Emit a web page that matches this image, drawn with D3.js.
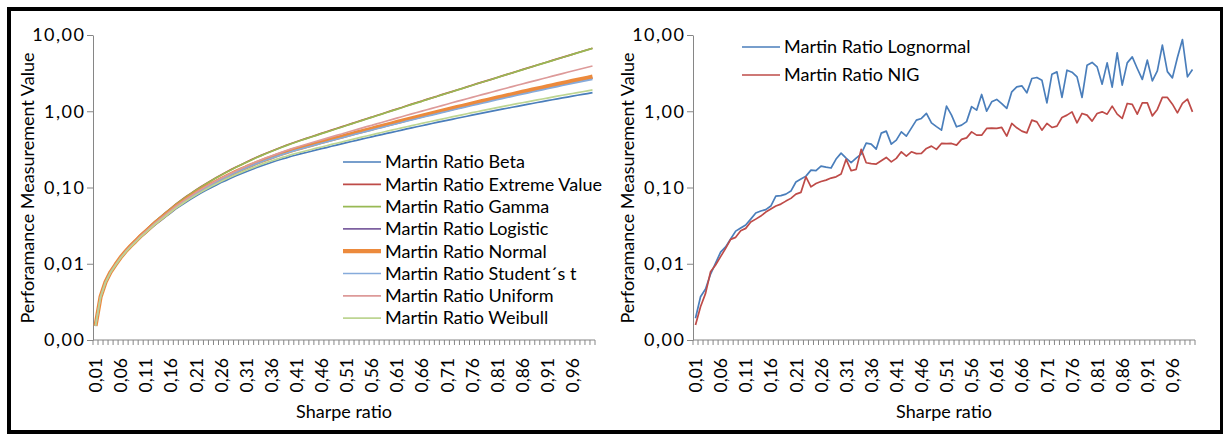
<!DOCTYPE html>
<html>
<head>
<meta charset="utf-8">
<script src="https://cdn.jsdelivr.net/npm/d3@7"></script>
<style>
  html, body { margin: 0; padding: 0; background: #fff; }
  svg text { font-family: Lato, "Open Sans", sans-serif; fill: #000; }
</style>
</head>
<body>
<svg id="chart" width="1223" height="434"></svg>
<script>
// Sharpe ratio categories on the x axis
const sharpeRatio = [0.01,0.02,0.03,0.04,0.05,0.06,0.07,0.08,0.09,0.10,
  0.11,0.12,0.13,0.14,0.15,0.16,0.17,0.18,0.19,0.20,
  0.21,0.22,0.23,0.24,0.25,0.26,0.27,0.28,0.29,0.30,
  0.31,0.32,0.33,0.34,0.35,0.36,0.37,0.38,0.39,0.40,
  0.41,0.42,0.43,0.44,0.45,0.46,0.47,0.48,0.49,0.50,
  0.51,0.52,0.53,0.54,0.55,0.56,0.57,0.58,0.59,0.60,
  0.61,0.62,0.63,0.64,0.65,0.66,0.67,0.68,0.69,0.70,
  0.71,0.72,0.73,0.74,0.75,0.76,0.77,0.78,0.79,0.80,
  0.81,0.82,0.83,0.84,0.85,0.86,0.87,0.88,0.89,0.90,
  0.91,0.92,0.93,0.94,0.95,0.96,0.97,0.98,0.99,1.00];

// y axis ticks (log scale) and their printed labels
const yTickValues = [0.001, 0.01, 0.1, 1, 10];
const yTickLabels = ["0,00", "0,01", "0,10", "1,00", "10,00"];

// Martin ratio per distribution
const martinBeta = [0.00152,0.00363,0.00569,0.00766,0.00956,0.0118,0.0141,0.0166,0.0191,0.0222,
  0.0252,0.0288,0.0329,0.0369,0.0415,0.0467,0.0524,0.0580,0.0642,0.0706,
  0.0775,0.0845,0.0918,0.0996,0.107,0.116,0.124,0.133,0.143,0.152,
  0.161,0.171,0.182,0.192,0.202,0.213,0.224,0.235,0.245,0.257,
  0.267,0.278,0.288,0.299,0.311,0.323,0.334,0.347,0.360,0.373,
  0.387,0.401,0.415,0.430,0.446,0.461,0.478,0.494,0.512,0.529,
  0.547,0.566,0.586,0.605,0.626,0.646,0.668,0.690,0.713,0.735,
  0.759,0.784,0.809,0.835,0.860,0.888,0.916,0.944,0.974,1.003,
  1.033,1.065,1.096,1.128,1.161,1.196,1.230,1.265,1.302,1.339,
  1.376,1.415,1.454,1.495,1.535,1.578,1.620,1.665,1.707,1.754];

const martinExtremeValue = [0.00155,0.00371,0.00585,0.00791,0.00998,0.0124,0.0150,0.0177,0.0206,0.0241,
  0.0277,0.0319,0.0366,0.0415,0.0471,0.0533,0.0604,0.0676,0.0755,0.0838,
  0.0928,0.102,0.112,0.123,0.134,0.146,0.159,0.172,0.186,0.199,
  0.215,0.231,0.247,0.264,0.282,0.299,0.318,0.338,0.358,0.378,
  0.398,0.420,0.441,0.463,0.487,0.512,0.538,0.565,0.594,0.623,
  0.655,0.689,0.723,0.759,0.798,0.836,0.880,0.922,0.969,1.02,
  1.07,1.12,1.18,1.24,1.30,1.36,1.43,1.50,1.57,1.65,
  1.73,1.81,1.90,1.99,2.09,2.19,2.30,2.41,2.52,2.64,
  2.77,2.91,3.05,3.19,3.35,3.51,3.68,3.85,4.04,4.23,
  4.43,4.64,4.86,5.09,5.33,5.58,5.85,6.12,6.41,6.71];

const martinGamma = [0.00153,0.00368,0.00582,0.00788,0.00992,0.0123,0.0149,0.0176,0.0204,0.0239,
  0.0275,0.0316,0.0364,0.0412,0.0467,0.0529,0.0600,0.0670,0.0749,0.0831,
  0.0921,0.101,0.111,0.122,0.133,0.145,0.157,0.170,0.184,0.198,
  0.213,0.228,0.245,0.262,0.279,0.296,0.315,0.335,0.354,0.375,
  0.395,0.416,0.437,0.459,0.483,0.508,0.533,0.560,0.589,0.618,
  0.650,0.683,0.718,0.753,0.792,0.830,0.874,0.916,0.962,1.01,
  1.06,1.11,1.17,1.23,1.29,1.35,1.42,1.49,1.56,1.64,
  1.72,1.80,1.89,1.98,2.08,2.18,2.29,2.40,2.51,2.63,
  2.76,2.90,3.04,3.18,3.33,3.49,3.66,3.84,4.02,4.21,
  4.41,4.62,4.84,5.07,5.31,5.56,5.83,6.10,6.38,6.68];

const martinLogistic = [0.00153,0.00366,0.00575,0.00777,0.00974,0.0121,0.0145,0.0170,0.0197,0.0230,
  0.0263,0.0301,0.0345,0.0389,0.0438,0.0494,0.0558,0.0619,0.0688,0.0760,
  0.0837,0.0916,0.100,0.109,0.118,0.128,0.137,0.148,0.159,0.170,
  0.181,0.193,0.206,0.219,0.231,0.244,0.258,0.271,0.285,0.300,
  0.313,0.327,0.340,0.355,0.370,0.386,0.401,0.419,0.436,0.454,
  0.473,0.492,0.513,0.533,0.555,0.576,0.600,0.623,0.648,0.673,
  0.700,0.727,0.756,0.785,0.815,0.846,0.879,0.911,0.946,0.981,
  1.017,1.056,1.095,1.135,1.176,1.219,1.263,1.308,1.355,1.404,
  1.453,1.504,1.557,1.611,1.667,1.724,1.783,1.843,1.906,1.970,
  2.036,2.103,2.173,2.245,2.318,2.393,2.470,2.550,2.631,2.715];

const martinNormal = [0.00153,0.00366,0.00576,0.00778,0.00976,0.0121,0.0145,0.0171,0.0198,0.0231,
  0.0264,0.0303,0.0347,0.0391,0.0441,0.0498,0.0562,0.0624,0.0694,0.0767,
  0.0845,0.0925,0.101,0.110,0.119,0.129,0.139,0.150,0.161,0.172,
  0.184,0.196,0.209,0.222,0.235,0.248,0.262,0.276,0.290,0.305,
  0.319,0.333,0.347,0.362,0.378,0.394,0.410,0.428,0.446,0.464,
  0.484,0.504,0.525,0.546,0.569,0.591,0.616,0.640,0.666,0.692,
  0.720,0.748,0.778,0.808,0.840,0.872,0.906,0.940,0.976,1.013,
  1.051,1.091,1.132,1.174,1.217,1.262,1.308,1.356,1.405,1.456,
  1.508,1.562,1.617,1.674,1.733,1.793,1.855,1.919,1.985,2.053,
  2.123,2.194,2.268,2.344,2.421,2.501,2.583,2.668,2.754,2.843];

const martinStudentT = [0.00153,0.00365,0.00575,0.00776,0.00972,0.0120,0.0144,0.0170,0.0197,0.0229,
  0.0262,0.0300,0.0344,0.0387,0.0436,0.0492,0.0555,0.0615,0.0684,0.0755,
  0.0831,0.0909,0.0992,0.108,0.117,0.126,0.136,0.147,0.158,0.168,
  0.180,0.191,0.204,0.216,0.229,0.241,0.254,0.268,0.281,0.296,
  0.309,0.322,0.336,0.350,0.365,0.380,0.395,0.412,0.429,0.446,
  0.465,0.484,0.504,0.523,0.545,0.566,0.589,0.611,0.636,0.660,
  0.686,0.712,0.741,0.768,0.798,0.828,0.859,0.891,0.924,0.958,
  0.993,1.031,1.069,1.107,1.146,1.189,1.231,1.275,1.319,1.366,
  1.415,1.464,1.514,1.565,1.620,1.675,1.731,1.789,1.850,1.911,
  1.974,2.038,2.105,2.175,2.244,2.316,2.389,2.468,2.545,2.624];

const martinUniform = [0.00153,0.00366,0.00576,0.00779,0.00977,0.0121,0.0145,0.0171,0.0198,0.0232,
  0.0265,0.0305,0.0349,0.0394,0.0445,0.0502,0.0568,0.0631,0.0702,0.0777,
  0.0858,0.0940,0.103,0.112,0.122,0.132,0.142,0.154,0.165,0.177,
  0.190,0.203,0.217,0.231,0.245,0.259,0.274,0.289,0.305,0.321,
  0.337,0.353,0.369,0.386,0.404,0.422,0.441,0.461,0.482,0.503,
  0.527,0.550,0.575,0.600,0.628,0.654,0.684,0.713,0.745,0.776,
  0.811,0.847,0.885,0.923,0.964,1.004,1.047,1.091,1.138,1.186,
  1.237,1.291,1.345,1.402,1.460,1.522,1.585,1.650,1.718,1.789,
  1.864,1.942,2.021,2.104,2.191,2.279,2.371,2.466,2.565,2.667,
  2.775,2.885,3.001,3.120,3.244,3.371,3.503,3.639,3.778,3.923];

const martinWeibull = [0.00153,0.00364,0.00571,0.00770,0.00963,0.0119,0.0142,0.0167,0.0193,0.0225,
  0.0256,0.0293,0.0335,0.0377,0.0423,0.0477,0.0536,0.0594,0.0659,0.0726,
  0.0797,0.0870,0.0946,0.103,0.111,0.120,0.129,0.138,0.148,0.158,
  0.168,0.178,0.189,0.201,0.212,0.223,0.234,0.246,0.257,0.270,
  0.281,0.292,0.303,0.315,0.328,0.340,0.353,0.367,0.380,0.394,
  0.410,0.425,0.441,0.457,0.474,0.491,0.509,0.527,0.546,0.565,
  0.585,0.605,0.626,0.648,0.670,0.692,0.717,0.740,0.765,0.790,
  0.816,0.843,0.871,0.898,0.927,0.957,0.986,1.017,1.050,1.082,
  1.114,1.150,1.184,1.219,1.256,1.293,1.330,1.368,1.409,1.449,
  1.490,1.534,1.576,1.620,1.666,1.711,1.756,1.804,1.853,1.902];

const martinLognormal = [0.00193,0.00369,0.00466,0.00733,0.0102,0.0142,0.0166,0.0211,0.0268,0.0294,
  0.0322,0.0385,0.0462,0.0491,0.0513,0.0571,0.0771,0.0783,0.0819,0.0897,
  0.118,0.129,0.141,0.169,0.166,0.191,0.185,0.180,0.236,0.282,
  0.243,0.212,0.243,0.274,0.382,0.371,0.319,0.516,0.549,0.371,
  0.418,0.537,0.472,0.601,0.765,0.805,0.936,0.705,0.629,0.565,
  1.166,0.889,0.625,0.658,0.731,1.150,1.034,1.661,1.003,1.328,
  1.428,1.258,1.088,1.796,2.088,2.152,1.743,2.691,2.773,2.556,
  1.289,3.063,3.284,1.517,3.457,3.250,2.824,1.517,4.020,4.361,
  3.818,2.266,4.308,2.070,5.826,2.198,4.308,5.164,3.638,2.611,
  4.674,2.502,3.384,7.352,3.310,2.740,5.071,8.730,2.824,3.530];

const martinNIG = [0.00157,0.00273,0.00409,0.00786,0.00962,0.0124,0.0159,0.0209,0.0222,0.0271,
  0.0291,0.0352,0.0385,0.0422,0.0476,0.0521,0.0571,0.0606,0.0663,0.0720,
  0.0819,0.0863,0.138,0.102,0.113,0.120,0.125,0.133,0.138,0.150,
  0.234,0.166,0.173,0.316,0.211,0.206,0.203,0.224,0.248,0.217,
  0.241,0.294,0.258,0.294,0.278,0.280,0.325,0.349,0.316,0.378,
  0.376,0.378,0.359,0.427,0.448,0.537,0.486,0.486,0.595,0.601,
  0.595,0.613,0.472,0.692,0.606,0.549,0.521,0.765,0.726,0.565,
  0.692,0.613,0.638,0.829,0.889,0.982,0.705,0.936,0.889,0.742,
  0.936,0.982,0.916,1.166,0.916,0.805,1.265,1.228,0.916,1.289,
  1.289,0.870,1.056,1.517,1.517,1.239,0.953,1.265,1.441,0.982];

const leftSeries = [
  { name: "Martin Ratio Beta",          values: martinBeta,         color: "#4a7ebb", width: 1.7 },
  { name: "Martin Ratio Extreme Value", values: martinExtremeValue, color: "#be4b48", width: 1.7 },
  { name: "Martin Ratio Gamma",         values: martinGamma,        color: "#98b954", width: 1.7 },
  { name: "Martin Ratio Logistic",      values: martinLogistic,     color: "#7d60a0", width: 1.7 },
  { name: "Martin Ratio Normal",        values: martinNormal,       color: "#ec8a3c", width: 4.2 },
  { name: "Martin Ratio Student\u00b4s t", values: martinStudentT,  color: "#86abdb", width: 1.7 },
  { name: "Martin Ratio Uniform",       values: martinUniform,      color: "#dd9a99", width: 1.7 },
  { name: "Martin Ratio Weibull",       values: martinWeibull,      color: "#bdd592", width: 1.7 }
];

const rightSeries = [
  { name: "Martin Ratio Lognormal", values: martinLognormal, color: "#4a7ebb", width: 1.7 },
  { name: "Martin Ratio NIG",       values: martinNIG,       color: "#be4b48", width: 1.7 }
];

const svg = d3.select("#chart");
const AXIS = "#868686";
const FONT = 18;

// outer frame
svg.append("rect")
  .attr("x", 9).attr("y", 9).attr("width", 1213).attr("height", 423)
  .attr("fill", "#fff").attr("stroke", "#000").attr("stroke-width", 4);

const fmt = d => d3.format(".2f")(d).replace(".", ",");

function drawPanel(opts) {
  const g = svg.append("g");
  const x = d3.scaleBand().domain(sharpeRatio).range([opts.x0, opts.x1]);
  const y = d3.scaleLog().domain([0.001, 10]).range([340, 35]);
  const cx = d => x(d) + x.bandwidth() / 2;

  // y axis
  const yAxis = g.append("g")
    .attr("transform", `translate(${opts.x0},0)`)
    .call(d3.axisLeft(y).tickValues(yTickValues)
      .tickFormat((d, i) => yTickLabels[i])
      .tickSize(6).tickSizeOuter(0).tickPadding(1.5));
  yAxis.select(".domain").attr("stroke", AXIS);
  yAxis.selectAll(".tick line").attr("stroke", AXIS);
  yAxis.selectAll(".tick text")
    .style("font-family", "Lato, 'Open Sans', sans-serif")
    .style("letter-spacing", "1.5px")
    .attr("font-size", FONT).attr("fill", "#000");

  // x axis: baseline, ticks between categories, every fifth label
  g.append("line")
    .attr("x1", opts.x0).attr("x2", opts.x1)
    .attr("y1", 340).attr("y2", 340)
    .attr("stroke", AXIS);
  const tickPos = sharpeRatio.map(d => x(d)).concat([opts.x1]);
  g.selectAll("line.xtick").data(tickPos).join("line")
    .attr("class", "xtick")
    .attr("x1", d => d).attr("x2", d => d)
    .attr("y1", 340).attr("y2", 345)
    .attr("stroke", AXIS);
  g.selectAll("text.xlab")
    .data(sharpeRatio.filter((d, i) => i % 5 === 0))
    .join("text")
    .attr("class", "xlab")
    .attr("transform", d => `translate(${cx(d) + 0.5},358) rotate(-90)`)
    .attr("text-anchor", "end").attr("dy", "0.35em")
    .attr("font-size", 17.5)
    .text(fmt);

  // axis titles
  g.append("text")
    .attr("x", (opts.x0 + opts.x1) / 2).attr("y", 418)
    .attr("text-anchor", "middle").attr("font-size", FONT)
    .text("Sharpe ratio");
  g.append("text")
    .attr("transform", `translate(${opts.x0 - 59.5},188) rotate(-90)`)
    .attr("text-anchor", "middle").attr("font-size", FONT)
    .text("Perforamance Measurement Value");

  // series lines
  const line = d3.line()
    .x((d, i) => cx(sharpeRatio[i]))
    .y(d => y(d));
  g.selectAll("path.series").data(opts.series).join("path")
    .attr("class", "series")
    .attr("d", s => line(s.values))
    .attr("fill", "none")
    .attr("stroke", s => s.color)
    .attr("stroke-width", s => s.width)
    .attr("stroke-linejoin", "round");

  // legend
  const lg = g.append("g");
  const rows = lg.selectAll("g").data(opts.series).join("g")
    .attr("transform", (s, i) => `translate(${opts.legendX},${opts.legendY + i * opts.legendStep})`);
  rows.append("line")
    .attr("x1", 0).attr("x2", 38).attr("y1", 0).attr("y2", 0)
    .attr("stroke", s => s.color)
    .attr("stroke-width", s => s.width);
  rows.append("text")
    .attr("x", 42).attr("dy", "0.35em")
    .attr("font-size", FONT)
    .text(s => s.name);
}

drawPanel({ x0: 93, x1: 595, series: leftSeries,
  legendX: 343, legendY: 162, legendStep: 22.3 });
drawPanel({ x0: 693, x1: 1195, series: rightSeries,
  legendX: 742, legendY: 47, legendStep: 28 });
</script>
</body>
</html>
